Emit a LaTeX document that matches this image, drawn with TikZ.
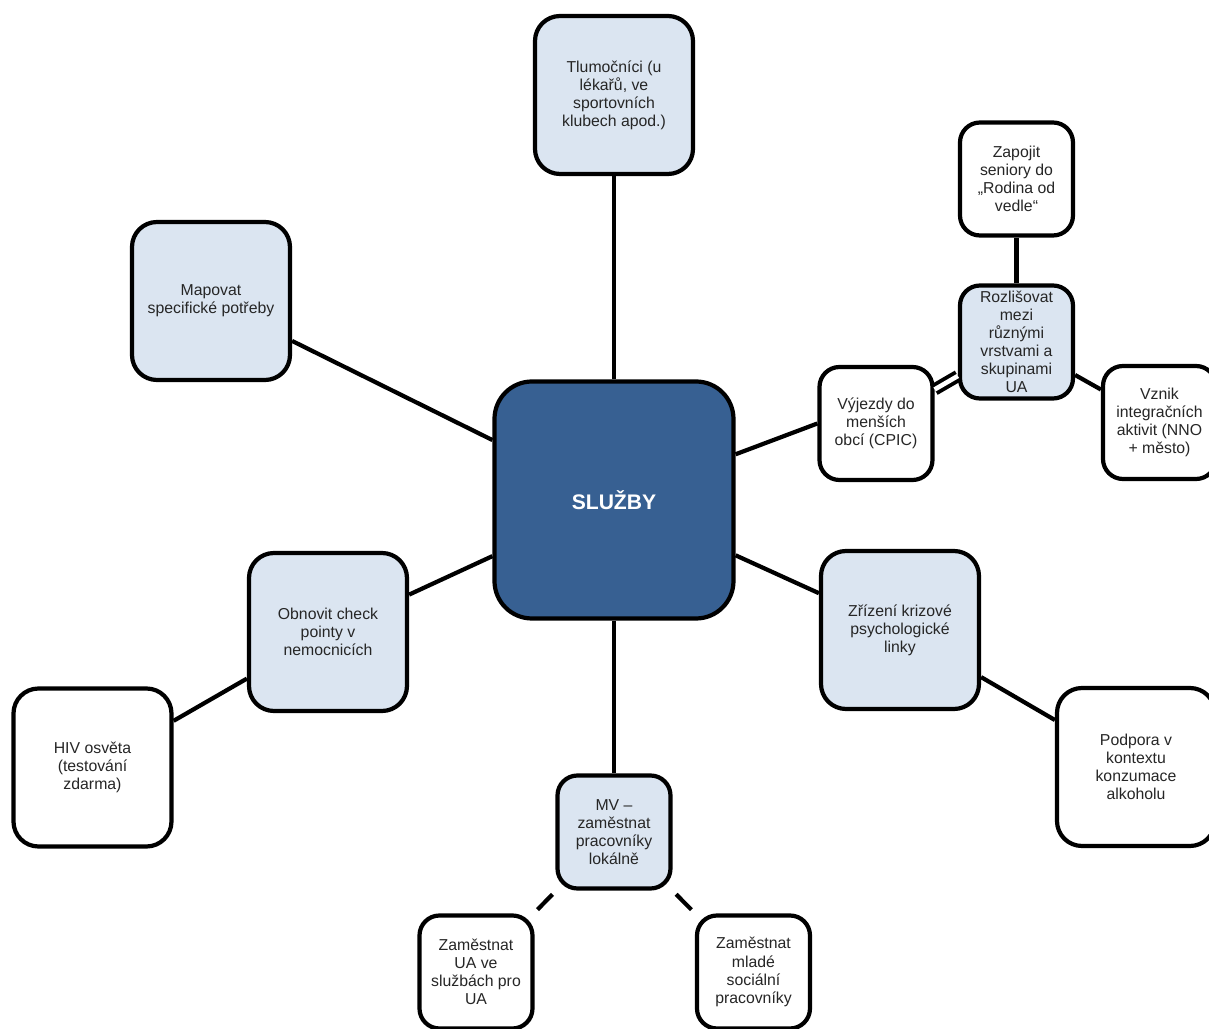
\documentclass[tikz,border=0pt]{standalone}
\usepackage{fontspec}
\setmainfont{Liberation Sans}
\usepackage{xcolor}
\usepackage{tikz}
\usetikzlibrary{shapes,positioning}

\definecolor{hub}{HTML}{376092}
\definecolor{pale}{HTML}{DBE5F1}
\definecolor{ink}{HTML}{262626}

\begin{document}
\begin{tikzpicture}[node distance=3cm, on grid]
\tikzstyle{hubblock} = [rectangle, draw, line width=2.4pt, fill=hub, text=white, font=\fontsize{12}{14}\selectfont\bfseries, minimum width=4.78cm, minimum height=4.74cm, rounded corners=0.75cm]
\tikzstyle{block} = [rectangle, draw, line width=2.4pt, fill=pale, text=ink, align=center, font=\fontsize{9}{10.3}\selectfont, minimum width=3.16cm, minimum height=3.16cm, rounded corners=0.5cm]
\tikzstyle{leaf} = [block, fill=white]
\tikzstyle{small} = [block, inner sep=1pt, minimum width=2.26cm, minimum height=2.26cm, rounded corners=0.4cm]
\tikzstyle{smallleaf} = [small, fill=white]
\tikzstyle{line} = [draw, line width=2.4pt]
\tikzstyle{twin} = [draw, line width=2.2pt, double=white, double distance=2.6pt]

\useasboundingbox (-12.28,-10.58) rectangle (11.9,10);

\node [hubblock] (sluzby) {SLUŽBY};
\node [block, above=8.1cm of sluzby] (tlumoc) {Tlumočníci (u\\lékařů, ve\\sportovních\\klubech apod.)};
\node [block, above left=3.98cm and 8.06cm of sluzby] (mapovat) {Mapovat\\specifické potřeby};
\node [block, below left=2.64cm and 5.72cm of sluzby] (obnovit) {Obnovit check\\pointy v\\nemocnicích};
\node [leaf, below left=2.71cm and 4.71cm of obnovit] (hiv) {HIV osvěta\\(testování\\zdarma)};
\node [small, below=6.64cm of sluzby] (mv) {MV –\\zaměstnat\\pracovníky\\lokálně};
\node [smallleaf, below left=2.8cm and 2.76cm of mv] (zamua) {Zaměstnat\\UA ve\\službách pro\\UA};
\node [smallleaf, below right=2.8cm and 2.79cm of mv] (zammlad) {Zaměstnat\\mladé\\sociální\\pracovníky};
\node [block, below right=2.6cm and 5.72cm of sluzby] (krize) {Zřízení krizové\\psychologické\\linky};
\node [leaf, below right=2.74cm and 4.72cm of krize] (podpora) {Podpora v\\kontextu\\konzumace\\alkoholu};
\node [smallleaf, above right=1.53cm and 5.24cm of sluzby] (vyjezdy) {Výjezdy do\\menších\\obcí (CPIC)};
\node [small, above right=1.63cm and 2.81cm of vyjezdy] (rozlis) {Rozlišovat\\mezi\\různými\\vrstvami a\\skupinami\\UA};
\node [smallleaf, above=3.26cm of rozlis] (zapojit) {Zapojit\\seniory do\\„Rodina od\\vedle“};
\node [smallleaf, below right=1.61cm and 2.86cm of rozlis] (vznik) {Vznik\\integračních\\aktivit (NNO\\+ město)};

\path [line] (sluzby) -- (tlumoc);
\path [line] (sluzby) -- (mapovat);
\path [line] (sluzby) -- (obnovit);
\path [line] (obnovit) -- (hiv);
\path [line] (sluzby) -- (mv);
\path [line, shorten <=3pt, shorten >=3pt] (mv) -- (zamua);
\path [line, shorten <=3pt, shorten >=3pt] (mv) -- (zammlad);
\path [line] (sluzby) -- (krize);
\path [line] (krize) -- (podpora);
\path [line] (sluzby) -- (vyjezdy.west);
\path [twin] (vyjezdy) -- (rozlis);
\path [line] (rozlis) -- (zapojit);
\path [line] (rozlis) -- (vznik);
\end{tikzpicture}
\end{document}
